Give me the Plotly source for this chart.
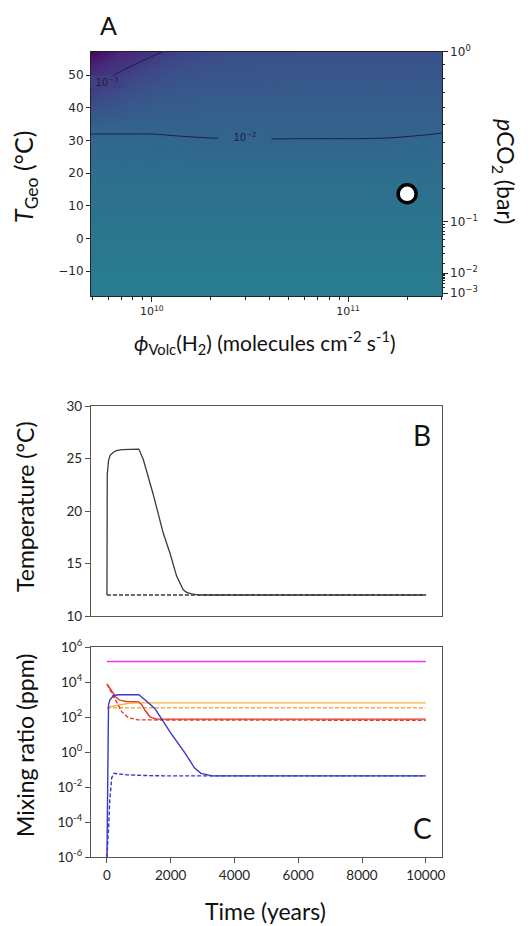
import numpy as np
import plotly.graph_objects as go
from plotly.colors import sample_colorscale

# ---------------- Panel A: surface over (phi_Volc(H2), T_Geo) ----------------
phi_grid = [4.9e9, 7.0e9, 1.0e10, 1.4e10, 2.5e10, 6.3e10, 1.6e11, 3.0e11]
tgeo_grid = [-17.6, -10, 0, 10, 20, 30, 34, 40, 46, 52, 57.2]
# log10 of the mapped quantity, one row per T_Geo value
log_field = [
    [-1.30, -1.30, -1.30, -1.30, -1.30, -1.30, -1.30, -1.30],
    [-1.38, -1.38, -1.38, -1.38, -1.38, -1.38, -1.38, -1.38],
    [-1.50, -1.50, -1.50, -1.50, -1.50, -1.50, -1.50, -1.50],
    [-1.62, -1.62, -1.62, -1.62, -1.62, -1.62, -1.62, -1.62],
    [-1.76, -1.76, -1.76, -1.76, -1.76, -1.76, -1.76, -1.76],
    [-1.96, -1.96, -1.96, -1.975, -1.99, -1.99, -1.985, -1.955],
    [-2.04, -2.04, -2.04, -2.05, -2.06, -2.06, -2.06, -2.035],
    [-2.50, -2.32, -2.22, -2.18, -2.16, -2.16, -2.16, -2.14],
    [-3.00, -2.62, -2.42, -2.32, -2.28, -2.27, -2.27, -2.25],
    [-3.40, -3.05, -2.70, -2.50, -2.40, -2.38, -2.38, -2.36],
    [-4.00, -3.45, -3.12, -2.80, -2.55, -2.48, -2.48, -2.46],
]
contour_levels = [-3, -2]
contour_labels = ["10<sup>−3</sup>", "10<sup>−2</sup>"]
contour_label_phi = [5.9e9, 3.0e10]
contour_label_t = [47.9, 31.0]

# present-day point
point_phi = [2.0e11]
point_t = [13.7]

tgeo_ticks = [-10, 0, 10, 20, 30, 40, 50]
phi_major = [1e10, 1e11]
phi_major_text = ["10<sup>10</sup>", "10<sup>11</sup>"]
phi_minor = [5e9, 6e9, 7e9, 8e9, 9e9, 2e10, 3e10, 4e10, 5e10, 6e10, 7e10, 8e10, 9e10, 2e11, 3e11]

# pCO2 (bar) axis: temperatures at which each pCO2 value sits
pco2_major_t = [57.2, 5.2, -10.6, -16.7]
pco2_major_text = ["10<sup>0</sup>", "10<sup>−1</sup>", "10<sup>−2</sup>", "10<sup>−3</sup>"]
pco2_minor_t = [53.3, 49.1, 44.8, 40.1, 35.0, 29.3, 23.0, 15.4,
                4.3, 3.4, 2.3, 1.1, -0.4, -2.3, -4.7, -7.5,
                -10.8, -11.1, -11.4, -11.8, -12.3, -12.9, -13.7, -14.9]

# ---------------- Panel B: temperature evolution ----------------
time_temp = [0, 10, 50, 100, 200, 300, 470, 700, 1000, 1140, 1450, 1765, 1975, 2185,
             2290, 2392, 2500, 2650, 2800, 3000, 10000]
temp_pulse = [12.0, 23.5, 24.8, 25.3, 25.6, 25.75, 25.85, 25.9, 25.9, 24.9, 21.6, 17.9, 16.0, 13.8,
              13.05, 12.5, 12.25, 12.1, 12.03, 12.0, 12.0]
time_base = [0, 10000]
temp_base = [12.0, 12.0]

# ---------------- Panel C: mixing ratios (ppm) ----------------
t_mag = [0, 10000]
mix_mag = [1.55e5, 1.55e5]

t_or = [0, 100, 355, 700, 1000, 10000]
mix_or = [325, 400, 500, 630, 670, 670]
t_or_d = [0, 10000]
mix_or_d = [350, 350]

t_red = [0, 150, 272, 400, 600, 1000, 1100, 1190, 1350, 1560, 10000]
mix_red = [8000, 3200, 1500, 950, 800, 760, 500, 260, 107, 79, 79]
t_red_d = [0, 200, 355, 460, 668, 980, 10000]
mix_red_d = [8000, 1800, 500, 210, 95, 71, 67]

t_blue = [0, 30, 50, 94, 198, 350, 1000, 1100, 1500, 2000, 2450, 2750, 2950, 3300, 10000]
mix_blue = [1e-6, 100, 500, 1000, 1660, 1950, 1950, 1400, 320, 13, 0.9, 0.125, 0.063, 0.045, 0.045]
t_blue_d = [0, 40, 60, 90, 150, 220, 600, 1200, 1800, 10000]
mix_blue_d = [1e-6, 1e-5, 1e-4, 2e-3, 0.035, 0.063, 0.052, 0.047, 0.045, 0.045]

time_ticks = [0, 2000, 4000, 6000, 8000, 10000]
mix_ticks = [1e-6, 1e-4, 1e-2, 1, 1e2, 1e4, 1e6]
mix_tick_text = ["10<sup>-6</sup>", "10<sup>-4</sup>", "10<sup>-2</sup>", "10<sup>0</sup>",
                 "10<sup>2</sup>", "10<sup>4</sup>", "10<sup>6</sup>"]

# ---------------- layout helpers ----------------
W, H = 529, 926
ZMIN, ZMAX, ZSTEP = -4.14, 2.54, 0.02


def fx(p):
    return p / W


def fy(p):
    return 1 - p / H


def field_colour(z):
    return sample_colorscale("Viridis", [(z - ZMIN) / (ZMAX - ZMIN)])[0]


X_DOM = [fx(91), fx(441.7)]
A_DOM = [fy(296), fy(51.7)]
B_DOM = [fy(616), fy(406)]
C_DOM = [fy(857.3), fy(647.3)]

TICK_A = dict(family="DejaVu Sans", size=12, color="#262626")
TICK_BC = dict(family="Lato", size=13.5, color="#262626")
AX_A = "#222222"
AX_BC = "#555555"

fig = go.Figure()

# smooth colour field: finely banded filled contours spanning the full colour range
fig.add_trace(go.Contour(
    x=phi_grid, y=tgeo_grid, z=log_field, colorscale="Viridis", showscale=False,
    autocontour=False,
    contours=dict(start=ZMIN, end=ZMAX, size=ZSTEP, coloring="fill", showlines=False),
    line=dict(width=0), hoverinfo="skip", xaxis="x", yaxis="y"))
# the two labelled iso-lines
fig.add_trace(go.Contour(
    x=phi_grid, y=tgeo_grid, z=log_field, autocontour=False,
    contours=dict(start=contour_levels[0], end=contour_levels[-1], size=1, coloring="none"),
    line=dict(color="#18223f", width=1), showscale=False,
    hoverinfo="skip", xaxis="x", yaxis="y"))
fig.add_trace(go.Scatter(
    x=point_phi, y=point_t, mode="markers",
    marker=dict(size=18, color="white", line=dict(color="black", width=3.5)),
    xaxis="x", yaxis="y2", hoverinfo="skip"))

fig.add_trace(go.Scatter(x=time_temp, y=temp_pulse, mode="lines",
                         line=dict(color="#3a3a3a", width=1.3), xaxis="x2", yaxis="y3"))
fig.add_trace(go.Scatter(x=time_base, y=temp_base, mode="lines",
                         line=dict(color="#3a3a3a", width=1.3, dash="4px,2px"), xaxis="x2", yaxis="y3"))

MAG, ORA, RED, BLU = "#f030f0", "#f2b440", "#e23a2c", "#3838c8"
series_c = [
    (t_mag, mix_mag, MAG, None),
    (t_or_d, mix_or_d, ORA, "4px,2px"),
    (t_or, mix_or, ORA, None),
    (t_red_d, mix_red_d, RED, "4px,2px"),
    (t_red, mix_red, RED, None),
    (t_blue_d, mix_blue_d, BLU, "4px,2px"),
    (t_blue, mix_blue, BLU, None),
]
for tx, vy, col, dash in series_c:
    line = dict(color=col, width=1.4)
    if dash:
        line["dash"] = dash
    fig.add_trace(go.Scatter(x=tx, y=vy, mode="lines", line=line,
                             xaxis="x3", yaxis="y4", cliponaxis=True))

common_line = dict(showline=True, mirror=True, showgrid=False, zeroline=False,
                   ticks="outside", automargin=False)

fig.update_layout(
    width=W, height=H, margin=dict(l=0, r=0, t=0, b=0, autoexpand=False), autosize=False,
    paper_bgcolor="white", plot_bgcolor="white", showlegend=False,
    xaxis=dict(domain=X_DOM, anchor="y", type="log",
               range=[np.log10(phi_grid[0]), np.log10(phi_grid[-1])],
               tickmode="array", tickvals=phi_major, ticktext=phi_major_text,
               ticklen=5, tickcolor=AX_A, linecolor=AX_A, linewidth=1, tickfont=dict(TICK_A, size=11),
               minor=dict(tickmode="array", tickvals=phi_minor, ticklen=2.5, ticks="outside", tickcolor=AX_A),
               **common_line),
    yaxis=dict(domain=A_DOM, anchor="x", range=[tgeo_grid[0], tgeo_grid[-1]],
               tickmode="array", tickvals=tgeo_ticks,
               ticktext=[str(v).replace("-", "−") for v in tgeo_ticks],
               ticklen=4, tickcolor=AX_A, linecolor=AX_A, linewidth=1, tickfont=TICK_A,
               **common_line),
    yaxis2=dict(overlaying="y", side="right", anchor="x", range=[tgeo_grid[0], tgeo_grid[-1]],
                tickmode="array", tickvals=pco2_major_t, ticktext=pco2_major_text,
                ticks="outside", ticklen=5, tickcolor=AX_A, tickfont=TICK_A,
                showline=False, showgrid=False, zeroline=False, automargin=False,
                minor=dict(tickmode="array", tickvals=pco2_minor_t, ticklen=2.5, ticks="outside", tickcolor=AX_A)),
    xaxis2=dict(domain=X_DOM, anchor="y3", range=[-500, 10500], showticklabels=False,
                showline=True, mirror=True, showgrid=False, zeroline=False, ticks="",
                linecolor=AX_BC, linewidth=1.2, automargin=False),
    yaxis3=dict(domain=B_DOM, anchor="x2", range=[10, 30], tickmode="linear", tick0=10, dtick=5,
                ticklen=5, tickcolor=AX_BC, linecolor=AX_BC, linewidth=1.2, tickfont=TICK_BC,
                **common_line),
    xaxis3=dict(domain=X_DOM, anchor="y4", range=[-500, 10500], tickmode="array", tickvals=time_ticks,
                ticktext=[str(v) for v in time_ticks],
                ticklen=5, tickcolor=AX_BC, linecolor=AX_BC, linewidth=1.2, tickfont=TICK_BC,
                **common_line),
    yaxis4=dict(domain=C_DOM, anchor="x3", type="log", range=[-6, 6],
                tickmode="array", tickvals=mix_ticks, ticktext=mix_tick_text,
                ticklen=5, tickcolor=AX_BC, linecolor=AX_BC, linewidth=1.2, tickfont=TICK_BC,
                **common_line),
)

ann = []
# contour labels, with a backing box in the local field colour to break the line
for lab, ph, tt, zc, w in zip(contour_labels, contour_label_phi, contour_label_t, [-2.85, -2.0], [32, 52]):
    ann.append(dict(x=np.log10(ph), y=tt, xref="x", yref="y", text=lab, showarrow=False,
                    font=dict(family="DejaVu Sans", size=10, color="#18223f"),
                    bgcolor=field_colour(zc), width=w, height=12, borderpad=0))


def text_ann(x, y, text, size, angle=0, family="Lato"):
    return dict(x=fx(x), y=fy(y), xref="paper", yref="paper", text=text, showarrow=False,
                textangle=angle, xanchor="center", yanchor="middle",
                font=dict(family=family, size=size, color="#111111"))


ann += [
    text_ann(108, 25, "A", 25),
    text_ann(422, 435, "B", 28),
    text_ann(422, 828, "C", 28),
    text_ann(25, 177, "<i>T</i><sub>Geo</sub> (°C)", 25, -90),
    text_ann(265, 342, "<i>ϕ</i><sub>Volc</sub>(H<sub>2</sub>) (molecules cm<sup>-2</sup> s<sup>-1</sup>)", 21),
    text_ann(505, 171, "<i>p</i>CO<sub>2</sub> (bar)", 23, 90),
    text_ann(25, 507, "Temperature (°C)", 23, -90),
    text_ann(25, 746, "Mixing ratio (ppm)", 23, -90),
    text_ann(265, 911, "Time (years)", 23),
]
fig.update_layout(annotations=ann)

fig.write_html("out.html")
